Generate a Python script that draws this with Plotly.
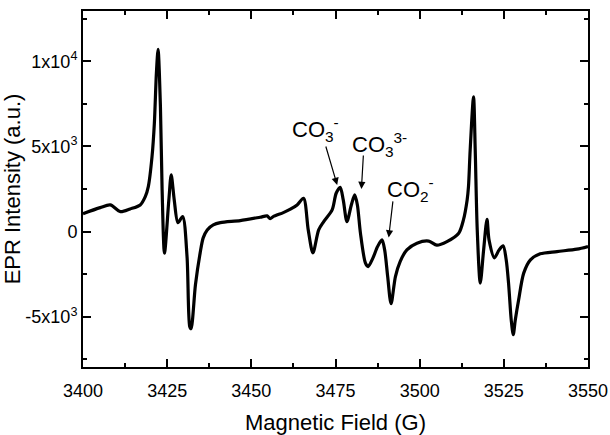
import plotly.graph_objects as go

# Magnetic field (G) and EPR intensity (a.u.)
field = [3400.0, 3405.1, 3408.1, 3411.1, 3414.0, 3417.0, 3418.5, 3419.4, 3420.5, 3421.2,
         3421.8, 3422.3, 3423.0, 3423.5, 3424.2, 3425.5, 3426.2, 3427.1, 3428.2, 3429.6,
         3430.9, 3431.7, 3432.1, 3433.4, 3434.8, 3435.7, 3436.9, 3438.7, 3440.8, 3446.7,
         3452.6, 3454.7, 3455.6, 3456.5, 3459.5, 3461.6, 3463.6, 3465.5, 3466.9, 3468.3,
         3470.0, 3471.5, 3474.0, 3475.2, 3476.4, 3477.3, 3478.4, 3479.7, 3480.7, 3481.5,
         3482.4, 3483.9, 3484.7, 3486.1, 3487.5, 3488.8, 3489.6, 3490.5, 3491.5, 3492.8,
         3494.2, 3496.2, 3499.2, 3502.7, 3505.1, 3508.1, 3511.6, 3513.0, 3514.1, 3514.5,
         3515.0, 3516.0, 3516.5, 3517.1, 3518.0, 3519.0, 3520.0, 3520.6, 3522.2, 3523.6,
         3524.8, 3525.7, 3526.4, 3527.2, 3527.8, 3528.4, 3529.4, 3530.9, 3532.9, 3535.8,
         3540.8, 3546.7, 3550.0]
intensity = [1050, 1407, 1565, 1172, 1331, 1565, 2052, 2638, 4397, 6372,
             9303, 10692, 7328, 2444, -1266, 1858, 3324, 1858, 528, 879,
             -1466, -5569, -5704, -3124, -1249, -369, 100, 393, 528, 645,
             844, 920, 760, 879, 1114, 1313, 1565, 1958, 100, -1249,
             100, 586, 1272, 2251, 2603, 1858, 586, 1565, 2151, 1565,
             -76, -1852, -2052, -1559, -879, -487, -1073, -2638, -4238, -2638,
             -1759, -1073, -680, -560, -800, -586, -94, 686, 1858, 2638,
             4789, 7914, 4789, 100, -3025, -1073, 715, -487, -1542, -1073,
             -838, -1659, -3025, -5194, -6055, -5194, -4004, -2439, -1659, -1307,
             -1172, -1032, -879]

x_ticks = [3400, 3425, 3450, 3475, 3500, 3525, 3550]
x_tick_labels = ["3400", "3425", "3450", "3475", "3500", "3525", "3550"]
y_ticks = [-5000, 0, 5000, 10000]
y_tick_labels = ["-5x10<sup>3</sup>", "0", "5x10<sup>3</sup>", "1x10<sup>4</sup>"]

# annotation labels and arrows (data coordinates)
labels = ["CO<sub>3</sub><sup>-</sup>", "CO<sub>3</sub><sup>3-</sup>", "CO<sub>2</sub><sup>-</sup>"]
label_x = [3461.6, 3479.2, 3489.6]
label_y = [6000, 5100, 2450]
tail_x = [3472.0, 3483.3, 3492.1]
tail_y = [5082, 4555, 1858]
tip_x = [3475.5, 3482.7, 3490.8]
tip_y = [2738, 2503, -340]

FONT = "Liberation Sans, Arial, Helvetica, sans-serif"

fig = go.Figure()
fig.add_trace(go.Scatter(x=field, y=intensity, mode="lines",
                         line=dict(color="black", width=3.2, shape="spline", smoothing=0.8),
                         showlegend=False, hoverinfo="skip"))

for t, lx, ly in zip(labels, label_x, label_y):
    fig.add_annotation(x=lx, y=ly, xref="x", yref="y", text=t, showarrow=False,
                       xanchor="left", yanchor="middle",
                       font=dict(family=FONT, size=22, color="black"))
for ax_, ay_, tx, ty in zip(tail_x, tail_y, tip_x, tip_y):
    fig.add_annotation(x=tx, y=ty, ax=ax_, ay=ay_, xref="x", yref="y", axref="x", ayref="y",
                       text="", showarrow=True, arrowhead=2, arrowsize=1.2, arrowwidth=1.2,
                       arrowcolor="black", standoff=0, startstandoff=0)

axis_common = dict(showgrid=False, zeroline=False, showline=True, linecolor="black", linewidth=2,
                   mirror="allticks", ticks="inside", tickcolor="black", tickwidth=1.5,
                   ticklen=8, automargin=False,
                   tickfont=dict(family=FONT, size=18, color="black"))

fig.update_xaxes(range=[3400, 3550], tickmode="array", tickvals=x_ticks, ticktext=x_tick_labels,
                 ticklabelstandoff=6,
                 minor=dict(ticks="inside", dtick=12.5, tick0=3400, ticklen=4, tickwidth=1.5, tickcolor="black"),
                 title=dict(text="Magnetic Field (G)", font=dict(family=FONT, size=22, color="black"), standoff=17),
                 **axis_common)
fig.update_yaxes(range=[-7950, 12950], tickmode="array", tickvals=y_ticks, ticktext=y_tick_labels,
                 ticklabelstandoff=0,
                 minor=dict(ticks="inside", dtick=2500, tick0=0, ticklen=4, tickwidth=1.5, tickcolor="black"),
                 title=dict(text="EPR Intensity (a.u.)", font=dict(family=FONT, size=22, color="black"), standoff=2),
                 **axis_common)

fig.update_layout(width=610, height=435, margin=dict(l=83, r=22, t=11, b=68),
                  plot_bgcolor="white", paper_bgcolor="white")

fig.write_html("out.html")
